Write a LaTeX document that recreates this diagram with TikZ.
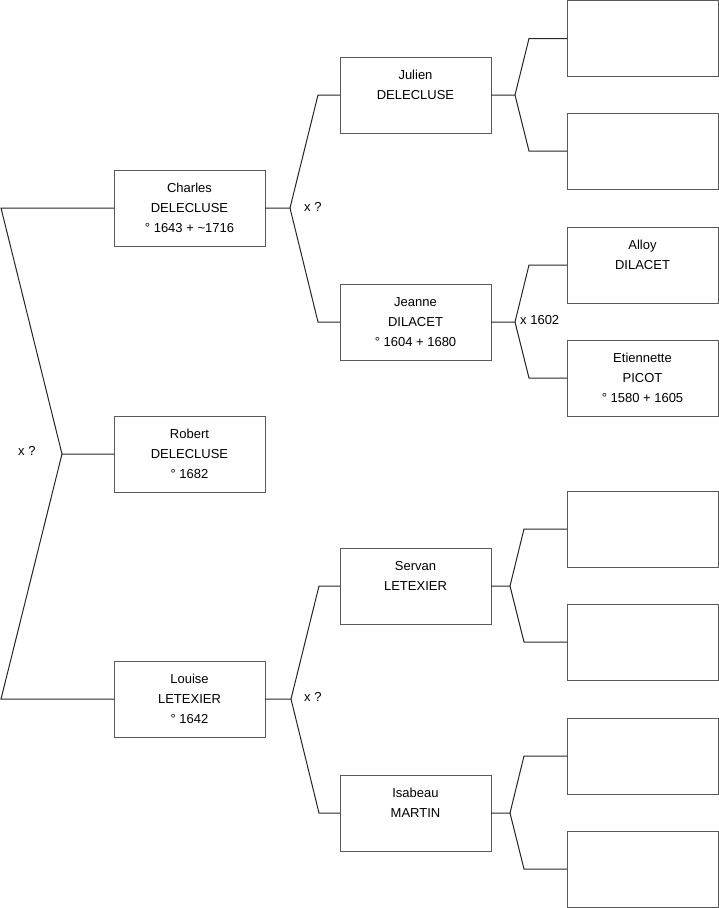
\documentclass[tikz,border=0pt]{standalone}
\usepackage{fontspec}
\setmainfont{Liberation Sans}
\newcommand{\pers}[3]{\strut #1\\\strut #2\\\strut #3}
\begin{document}
\begin{tikzpicture}[x=1pt,y=-1pt,
  pbox/.style={draw=black!65, line width=1pt, rectangle, minimum width=151pt, minimum height=76pt, inner sep=0pt, outer sep=0pt, align=center, font=\fontsize{13pt}{20pt}\selectfont},
  link/.style={draw=black!85, line width=1pt, line join=miter},
  lab/.style={font=\fontsize{13pt}{16pt}\selectfont, inner sep=0pt}]
\useasboundingbox (0,0) rectangle (719,908);
% generation 1
\node[pbox] (robert) at (189.5,454) {\pers{Robert}{DELECLUSE}{° 1682}};
% generation 2
\node[pbox] (charles) at (189.5,208) {\pers{Charles}{DELECLUSE}{° 1643 + \textasciitilde 1716}};
\node[pbox] (louise) at (189.5,699) {\pers{Louise}{LETEXIER}{° 1642}};
% generation 3
\node[pbox] (julien) at (415.5,95) {\pers{Julien}{DELECLUSE}{}};
\node[pbox] (jeanne) at (415.5,322) {\pers{Jeanne}{DILACET}{° 1604 + 1680}};
\node[pbox] (servan) at (415.5,586) {\pers{Servan}{LETEXIER}{}};
\node[pbox] (isabeau) at (415.5,813) {\pers{Isabeau}{MARTIN}{}};
% generation 4
\node[pbox] (r1) at (642.5,38.5) {};
\node[pbox] (r2) at (642.5,151) {};
\node[pbox] (alloy) at (642.5,265) {\pers{Alloy}{DILACET}{}};
\node[pbox] (etiennette) at (642.5,378) {\pers{Etiennette}{PICOT}{° 1580 + 1605}};
\node[pbox] (r5) at (642.5,529) {};
\node[pbox] (r6) at (642.5,642) {};
\node[pbox] (r7) at (642.5,756) {};
\node[pbox] (r8) at (642.5,869) {};
% coordinates of forks
\coordinate (a1) at (1,208);
\coordinate (a2) at (62,454);
\coordinate (a3) at (1,699);
\coordinate (b0) at (290,208);
\coordinate (b1) at (318,95);
\coordinate (b2) at (318,322);
\coordinate (c0) at (291,699);
\coordinate (c1) at (319,586);
\coordinate (c2) at (319,813);
\coordinate (d0) at (515,95);
\coordinate (d1) at (529,38.5);
\coordinate (d2) at (529,151);
\coordinate (e0) at (515,322);
\coordinate (e1) at (529,265);
\coordinate (e2) at (529,378);
\coordinate (f0) at (510,586);
\coordinate (f1) at (524,529);
\coordinate (f2) at (524,642);
\coordinate (g0) at (510,813);
\coordinate (g1) at (524,756);
\coordinate (g2) at (524,869);
% connectors
\draw[link] (charles.west) -- (a1) -- (a2) -- (robert.west);
\draw[link] (a2) -- (a3) -- (louise.west);
\draw[link] (charles.east) -- (b0) -- (b1) -- (julien.west);
\draw[link] (b0) -- (b2) -- (jeanne.west);
\draw[link] (louise.east) -- (c0) -- (c1) -- (servan.west);
\draw[link] (c0) -- (c2) -- (isabeau.west);
\draw[link] (julien.east) -- (d0) -- (d1) -- (r1.west);
\draw[link] (d0) -- (d2) -- (r2.west);
\draw[link] (jeanne.east) -- (e0) -- (e1) -- (alloy.west);
\draw[link] (e0) -- (e2) -- (etiennette.west);
\draw[link] (servan.east) -- (f0) -- (f1) -- (r5.west);
\draw[link] (f0) -- (f2) -- (r6.west);
\draw[link] (isabeau.east) -- (g0) -- (g1) -- (r7.west);
\draw[link] (g0) -- (g2) -- (r8.west);
% marriage labels
\node[lab, anchor=west] (m1) at (18,451) {x ?};
\node[lab, anchor=west] (m2) at (304,207) {x ?};
\node[lab, anchor=west] (m3) at (304,697) {x ?};
\node[lab, anchor=west] (m4) at (520,320) {x 1602};
\end{tikzpicture}
\end{document}
